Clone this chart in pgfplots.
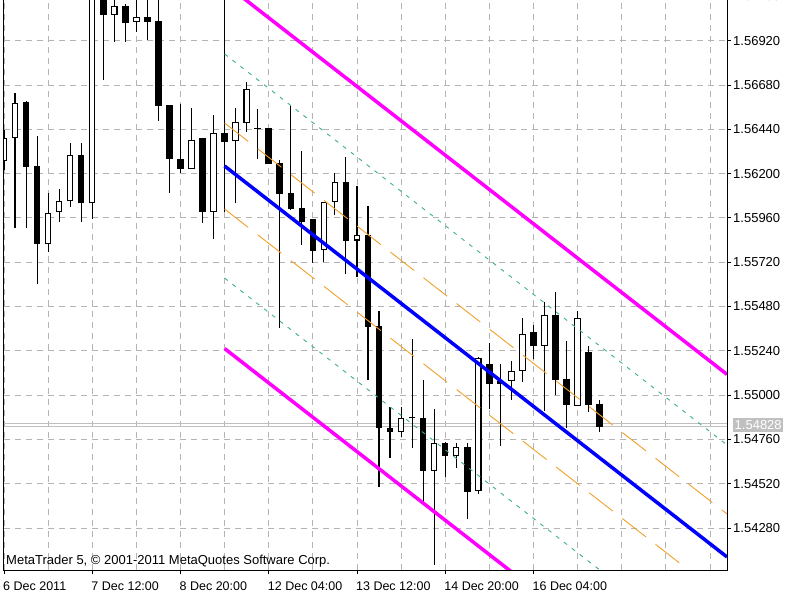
\documentclass[border=0pt]{standalone}
\usepackage{fontspec}
\setmainfont{Liberation Sans}
\usepackage{pgfplots}
\usepackage{pgfplotstable}
\pgfplotsset{compat=1.18}

\definecolor{mtblue}{RGB}{0,0,255}
\definecolor{mtmagenta}{RGB}{255,0,255}
\definecolor{mtorange}{RGB}{240,160,40}
\definecolor{mtteal}{RGB}{60,175,140}
\definecolor{mtgrid}{RGB}{180,180,180}
\definecolor{mtprice}{RGB}{192,192,192}

% H4 bars, t = bar index (8 bars between date labels)
% bull candles (close > open)
\pgfplotstableread{
t o h l c
0 1.56268 1.56436 1.56220 1.56393
1 1.56391 1.56638 1.55904 1.56584
4 1.55820 1.56093 1.55774 1.55988
5 1.55994 1.56115 1.55939 1.56053
6 1.56053 1.56367 1.56021 1.56301
8 1.56039 1.57330 1.55954 1.57276
10 1.57059 1.57195 1.56915 1.57108
12 1.57023 1.57184 1.56969 1.57047
17 1.56223 1.56557 1.56223 1.56382
19 1.55992 1.56517 1.55844 1.56418
21 1.56375 1.56554 1.56039 1.56478
22 1.56473 1.56698 1.56427 1.56658
29 1.55786 1.56048 1.55723 1.56048
30 1.56045 1.56205 1.55976 1.56156
32 1.55837 1.56133 1.55641 1.55866
36 1.54799 1.54934 1.54771 1.54878
39 1.54589 1.54923 1.54080 1.54742
41 1.54672 1.54739 1.54604 1.54721
43 1.54481 1.55208 1.54464 1.55203
46 1.55076 1.55185 1.54973 1.55131
47 1.55131 1.55416 1.55073 1.55329
49 1.55266 1.55503 1.54916 1.55434
52 1.54941 1.55457 1.54941 1.55419
}\bulls

% bear candles (close < open)
\pgfplotstableread{
t o h l c
2 1.56586 1.56593 1.55904 1.56237
3 1.56243 1.56405 1.55604 1.55820
7 1.56301 1.56367 1.55939 1.56039
9 1.57276 1.57357 1.56707 1.57059
11 1.57108 1.57119 1.56915 1.57014
13 1.57047 1.57168 1.56924 1.57023
14 1.57027 1.57157 1.56485 1.56566
15 1.56570 1.56570 1.56097 1.56278
16 1.56278 1.56577 1.56202 1.56223
18 1.56391 1.56391 1.55934 1.55992
20 1.56418 1.57168 1.55994 1.56373
23 1.56447 1.56550 1.56278 1.56442
24 1.56445 1.56445 1.56250 1.56250
25 1.56256 1.56274 1.55362 1.56090
26 1.56093 1.56566 1.56003 1.56007
27 1.56012 1.56324 1.55813 1.55939
28 1.55952 1.55952 1.55717 1.55782
31 1.56153 1.56288 1.55656 1.55837
33 1.55867 1.56024 1.55082 1.55371
34 1.55376 1.55457 1.54501 1.54820
35 1.54823 1.54934 1.54658 1.54799
37 1.54880 1.55302 1.54715 1.54875
38 1.54878 1.55082 1.54422 1.54589
40 1.54742 1.54748 1.54558 1.54672
42 1.54721 1.54739 1.54327 1.54477
44 1.55167 1.55284 1.54923 1.55059
45 1.55076 1.55167 1.54724 1.55059
48 1.55340 1.55380 1.55194 1.55266
50 1.55434 1.55557 1.55001 1.55082
51 1.55086 1.55295 1.54820 1.54946
53 1.55235 1.55266 1.54910 1.54946
54 1.54950 1.54973 1.54799 1.54828
}\bears

\newcommand{\lab}{\fontsize{13}{15}\selectfont}

\begin{document}
\begin{tikzpicture}
\begin{axis}[
    name=ax,
    scale only axis,
    width=723pt, height=570pt,
    xmin=0, xmax=65.55,
    ymin=1.540524, ymax=1.571405,
    axis line style={draw=none},
    xtick={0,8,16,24,32,40,48},
    xticklabels={6 Dec 2011, 7 Dec 12:00, 8 Dec 20:00, 12 Dec 04:00, 13 Dec 12:00, 14 Dec 20:00, 16 Dec 04:00},
    minor xtick={4,12,20,28,36,44,52,56,60,64},
    ytick={1.5428,1.5452,1.5476,1.55,1.5524,1.5548,1.5572,1.5596,1.562,1.5644,1.5668,1.5692},
    yticklabels={1.54280,1.54520,1.54760,1.55000,1.55240,1.55480,1.55720,1.55960,1.56200,1.56440,1.56680,1.56920},
    xtick pos=bottom, ytick pos=right, yticklabel pos=right,
    tick align=outside,
    major tick length=4pt, minor tick length=0pt,
    tick style={black, line width=0.8pt},
    grid=both,
    major grid style={mtgrid, line width=0.8pt, dash pattern=on 6pt off 5pt},
    minor grid style={mtgrid, line width=0.8pt, dash pattern=on 6pt off 5pt},
    xticklabel style={anchor=north west, inner sep=0pt, xshift=-1pt, yshift=-8pt, font=\fontsize{12.5}{15}\selectfont},
    yticklabel style={anchor=west, inner sep=0pt, xshift=2pt, font=\lab},
]
% current bid / ask lines
\addplot[mtprice, line width=0.8pt] coordinates {(0,1.54828) (65.55,1.54828)};
\addplot[mtprice, line width=0.8pt] coordinates {(0,1.54844) (65.55,1.54844)};

% wicks
\addplot[draw=none, mark=none, error bars/.cd, y dir=plus, y explicit, error mark=none,
    error bar style={draw=black, solid, line width=1.1pt}]
    table[x=t, y=l, y error plus expr=\thisrow{h}-\thisrow{l}] {\bulls};
\addplot[draw=none, mark=none, error bars/.cd, y dir=plus, y explicit, error mark=none,
    error bar style={draw=black, solid, line width=1.1pt}]
    table[x=t, y=l, y error plus expr=\thisrow{h}-\thisrow{l}] {\bears};
% bodies
\addplot[draw=none, mark=none, error bars/.cd, y dir=plus, y explicit, error mark=none,
    error bar style={draw=black, solid, line width=6.5pt}]
    table[x=t, y=c, y error plus expr=\thisrow{o}-\thisrow{c}] {\bears};
\addplot[draw=none, mark=none, error bars/.cd, y dir=plus, y explicit, error mark=none,
    error bar style={draw=black, solid, line width=6.5pt}]
    table[x=t, y=o, y error plus expr=\thisrow{c}-\thisrow{o}] {\bulls};
\addplot[draw=none, mark=none, error bars/.cd, y dir=plus, y explicit, error mark=none,
    error bar style={draw=white, solid, line width=4.3pt, shorten <=1.1pt, shorten >=1.1pt}]
    table[x=t, y=o, y error plus expr=\thisrow{c}-\thisrow{o}] {\bulls};

% standard deviation channel
\addplot[mtteal, line width=0.9pt, dash pattern=on 4pt off 6pt] coordinates {(20,1.56848) (65.55,1.54730)};
\addplot[mtteal, line width=0.9pt, dash pattern=on 4pt off 6pt] coordinates {(20,1.55634) (65.55,1.53516)};
\addplot[mtorange, line width=0.9pt, dash pattern=on 30pt off 12pt] coordinates {(20,1.56474) (65.55,1.54356)};
\addplot[mtorange, line width=0.9pt, dash pattern=on 30pt off 12pt] coordinates {(20,1.56008) (65.55,1.53890)};
\addplot[mtmagenta, line width=3.5pt] coordinates {(20,1.57230) (65.55,1.55112)};
\addplot[mtmagenta, line width=3.5pt] coordinates {(20,1.55252) (65.55,1.53134)};
\addplot[mtblue, line width=3.5pt] coordinates {(20,1.56241) (65.55,1.54123)};

\node[anchor=base west, inner sep=0pt, font=\lab] at (rel axis cs:0,0) [xshift=2pt, yshift=5pt]
    {MetaTrader 5, © 2001-2011 MetaQuotes Software Corp.};
\coordinate (pl) at (axis cs:65.55,1.54828);
\end{axis}
\draw[black, line width=1pt] (ax.north west) -- (ax.south west) -- (ax.south east) -- (ax.north east);
\node[fill=mtprice, text=white, inner xsep=1.5pt, inner ysep=2.5pt, anchor=west, font=\lab]
    at (pl) [xshift=6pt, yshift=2pt] {1.54828};
\draw[black, line width=0.8pt] ([yshift=3.6pt]ax.north east) -- ++(4pt,0);
\node[anchor=west, inner sep=0pt, font=\lab] at ([xshift=6pt, yshift=3.6pt]ax.north east) {1.57160};
\pgfresetboundingbox
\path[use as bounding box] ([xshift=-4pt, yshift=-30pt]ax.south west) rectangle ([xshift=796pt]ax.north west);
\end{tikzpicture}
\end{document}
